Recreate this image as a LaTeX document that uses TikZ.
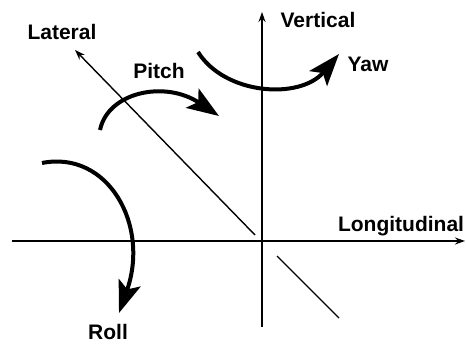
\documentclass[tikz,border=0pt]{standalone}
\usepackage{fontspec}
\setmainfont{Liberation Sans}
\usetikzlibrary{arrows.meta,positioning}

\begin{document}
\begin{tikzpicture}[
        x=1pt, y=-1pt,
        axis/.style={line width=1.4pt, -{Stealth[length=10pt,width=7pt]}},
        plainaxis/.style={line width=1.4pt},
        turn/.style={line width=4pt, -{Stealth[length=32pt,width=23pt,inset=7pt]}},
        axislabel/.style={inner sep=0pt, font=\fontsize{21}{24}\selectfont\bfseries}
    ]
        \useasboundingbox (0,0) rectangle (466,344);

        % axes
        \coordinate (origin) at (262,241);
        \coordinate (longA) at (12,241);
        \coordinate (longB) at (465,241);
        \coordinate (vertA) at (262,327);
        \coordinate (vertB) at (262,12);
        \coordinate (latA) at (255,235);
        \coordinate (latB) at (75,50);
        \coordinate (latC) at (277,256);
        \coordinate (latD) at (339,318);

        \node[axislabel] (lateral) at (62,32) {Lateral};
        \node[axislabel] (pitch) at (159,71) {Pitch};
        \node[axislabel] (vertical) at (318,20) {Vertical};
        \node[axislabel] (yaw) at (368,64) {Yaw};
        \node[axislabel] (longitudinal) at (401,226) {Longitudinal};
        \node[axislabel] (roll) at (108,332) {Roll};

        \draw[axis] (longA) -- (longB);
        \draw[axis] (vertA) -- (vertB);
        \draw[axis] (latA) -- (latB);
        \draw[plainaxis] (latC) -- (latD);

        % rotations
        \coordinate (pitchA) at (100,130);
        \coordinate (pitchB) at (219,116);
        \coordinate (yawA) at (198,52);
        \coordinate (yawB) at (339,54);
        \coordinate (rollA) at (42,163);
        \coordinate (rollB) at (119,313);

        \draw[turn] (pitchA) .. controls (108,92) and (165,80) .. (pitchB);
        \draw[turn] (yawA) .. controls (225,95) and (300,100) .. (yawB);
        \draw[turn] (rollA) .. controls (108,150) and (150,225) .. (rollB);
    \end{tikzpicture}
\end{document}
